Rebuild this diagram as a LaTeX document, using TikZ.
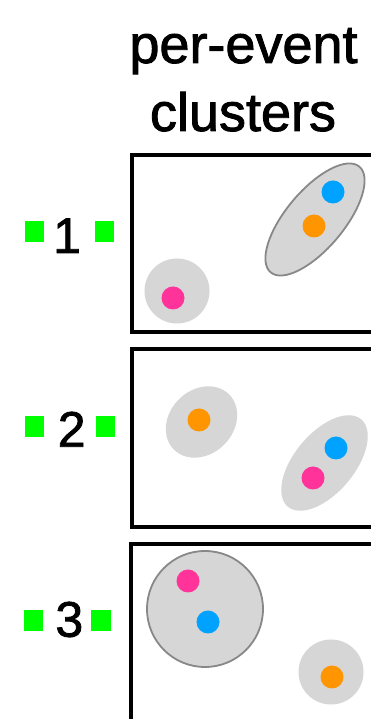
\documentclass[tikz,border=0pt]{standalone}
\usepackage{fontspec}
\setmainfont{Liberation Sans}
\newfontfamily\heavyfont[FakeBold=1.6]{Liberation Sans}
\usetikzlibrary{shapes.geometric}
\definecolor{dotpink}{HTML}{FF3399}
\definecolor{dotblue}{HTML}{00A2FF}
\definecolor{dotorange}{HTML}{FF9500}
\definecolor{clgray}{HTML}{D6D6D6}
\definecolor{clline}{HTML}{888888}
\definecolor{mkgreen}{HTML}{00FF00}
\begin{document}
\begin{tikzpicture}[x=1pt,y=1pt,
  dot/.style={circle,inner sep=0pt,minimum size=23pt},
  cl/.style={ellipse,fill=clgray,inner sep=0pt},
  clo/.style={cl,draw=clline,line width=1.8pt},
  panel/.style={draw=black,line width=4pt},
  marker/.style={fill=mkgreen,inner sep=0pt,minimum width=19.5pt,minimum height=21pt},
  num/.style={anchor=base,inner sep=0pt,font=\heavyfont\fontsize{50}{60}\selectfont},
  ttl/.style={anchor=base,inner sep=0pt,font=\heavyfont\fontsize{54}{64}\selectfont}]
\useasboundingbox (0,0) rectangle (371,719);
\clip (0,0) rectangle (371,719);
\fill[white] (0,0) rectangle (371,719);
% title
\node[ttl] (t1) at (243.5,656) {per-event};
\node[ttl] (t2) at (243,588) {clusters};
% panels
\draw[panel] (132,564.3) rectangle (420,387);
\draw[panel] (132,369.5) rectangle (420,192);
\draw[panel] (131,175) rectangle (420,-20);
% panel 1
\node[cl,minimum size=65pt] (c1a) at (177,428) {};
\node[dot,fill=dotpink] (p1) at (173,421) {};
\node[clo,minimum width=138pt,minimum height=58pt,rotate=50] (c1b) at (315,499.5) {};
\node[dot,fill=dotblue] (b1) at (333,527) {};
\node[dot,fill=dotorange] (o1) at (314,493) {};
% panel 2
\node[cl,minimum width=78pt,minimum height=64pt,rotate=45] (c2a) at (201.5,297) {};
\node[dot,fill=dotorange] (o2) at (199,299) {};
\node[cl,minimum width=114pt,minimum height=60pt,rotate=50] (c2b) at (324.5,256) {};
\node[dot,fill=dotblue] (b2) at (336,271) {};
\node[dot,fill=dotpink] (p2) at (313,241) {};
% panel 3
\node[clo,circle,minimum size=116pt] (c3a) at (205,110) {};
\node[dot,fill=dotpink] (p3) at (188,138) {};
\node[dot,fill=dotblue] (b3) at (208,97) {};
\node[cl,circle,minimum size=65pt] (c3b) at (331,47) {};
\node[dot,fill=dotorange] (o3) at (332,42) {};
% row labels
\node[marker] (m1l) at (34.5,487.5) {};
\node[num] (n1) at (67,466) {1};
\node[marker] (m1r) at (104.5,487.5) {};
\node[marker] (m2l) at (34.5,292.7) {};
\node[num] (n2) at (71.7,272.3) {2};
\node[marker] (m2r) at (105.5,292.7) {};
\node[marker] (m3l) at (33.3,98.2) {};
\node[num] (n3) at (69.3,82.3) {3};
\node[marker] (m3r) at (100.8,98.2) {};
\end{tikzpicture}
\end{document}
